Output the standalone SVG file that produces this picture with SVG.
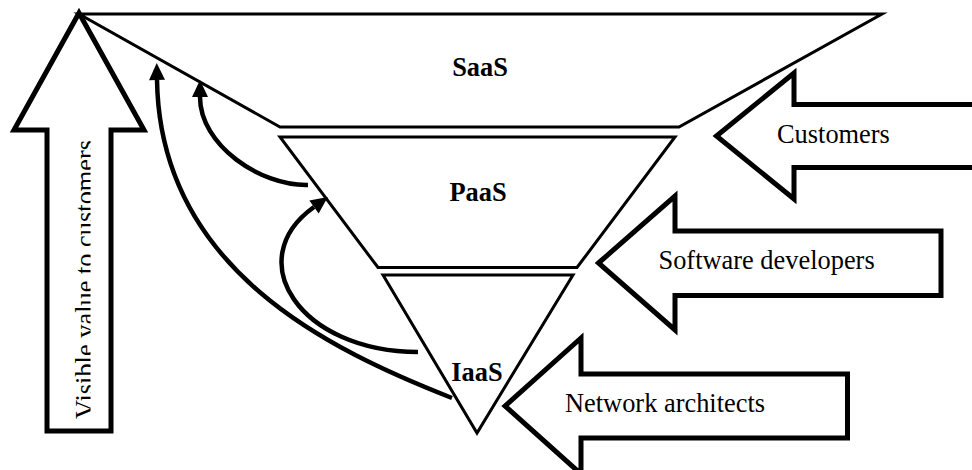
<svg xmlns="http://www.w3.org/2000/svg" width="972" height="470" viewBox="0 0 972 470">
  <style>
    .layer { fill: #ffffff; stroke: #000000; stroke-width: 3; stroke-linejoin: miter; stroke-miterlimit: 10; }
    .block { fill: #ffffff; stroke: #000000; stroke-width: 5; stroke-linejoin: miter; stroke-miterlimit: 10; }
    .flow { fill: none; stroke: #000000; stroke-width: 4.5; stroke-linecap: butt; }
    .title { font-family: "Liberation Serif", "Times New Roman", serif; font-size: 26.4px; font-weight: bold; fill: #000000; text-anchor: middle; }
    .label { font-family: "Liberation Serif", "Times New Roman", serif; font-size: 26.4px; fill: #000000; }
  </style>
  <defs>
    <marker id="head" markerUnits="userSpaceOnUse" markerWidth="18" markerHeight="16" refX="0" refY="8" orient="auto" overflow="visible">
      <path d="M0,0 L17,8 L0,16 Z" fill="#000000"/>
    </marker>
    <clipPath id="shaftClip">
      <rect x="0" y="0" width="90.5" height="470"/>
    </clipPath>
  </defs>

  <rect width="972" height="470" fill="#ffffff"/>

  <!-- Visible value arrow (pointing up) -->
  <g id="value-arrow">
    <path class="block" d="M79,13 L144,130 L111,130 L111,431 L47,431 L47,130 L14,130 Z"/>
    <g clip-path="url(#shaftClip)">
      <text class="label" transform="translate(93.5,419) rotate(-90)">Visible value to customers</text>
    </g>
  </g>

  <!-- Service layers -->
  <g id="saas">
    <path class="layer" d="M79,14 L882,14 L679,127 L280,127 Z"/>
    <text class="title" x="480" y="76">SaaS</text>
  </g>
  <g id="paas">
    <path class="layer" d="M280,137 L675,137 L577,267.5 L378,267.5 Z"/>
    <text class="title" x="478" y="201">PaaS</text>
  </g>
  <g id="iaas">
    <path class="layer" d="M383,275 L573,275 L477,433 Z"/>
    <text class="title" x="477" y="381">IaaS</text>
  </g>

  <!-- Audience arrows (pointing left) -->
  <g id="customers-arrow">
    <path class="block" d="M716.5,136 L794,73 L794,104.5 L985,104.5 L985,167.5 L794,167.5 L794,199 Z"/>
    <text class="label" x="777" y="143">Customers</text>
  </g>
  <g id="developers-arrow">
    <path class="block" d="M598.5,263 L675,196 L675,231 L941,231 L941,295.5 L675,295.5 L675,330 Z"/>
    <text class="label" x="658.5" y="268.5">Software developers</text>
  </g>
  <g id="architects-arrow">
    <path class="block" d="M505,406 L581,338 L581,374 L847.5,374 L847.5,438 L581,438 L581,474 Z"/>
    <text class="label" x="565" y="411.5">Network architects</text>
  </g>

  <!-- Value flow connectors -->
  <g id="connectors">
    <path class="flow" d="M308,185 C260,186 200,145 200,97" marker-end="url(#head)"/>
    <path class="flow" d="M452,398 C330,350 160,270 157,80" marker-end="url(#head)"/>
    <path class="flow" d="M418,352 C300,352 240,260 314,207" marker-end="url(#head)"/>
  </g>
</svg>
